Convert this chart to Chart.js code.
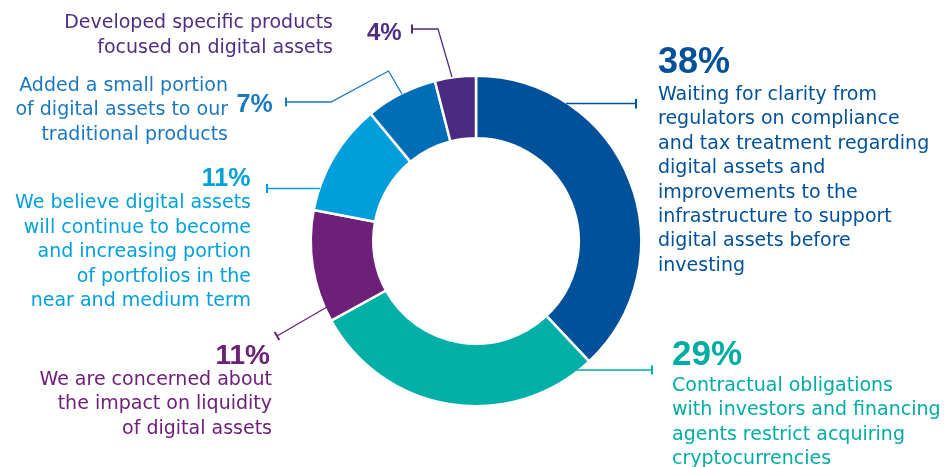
<!DOCTYPE html>
<html><head><meta charset="utf-8">
<script src="https://cdn.jsdelivr.net/npm/chart.js@4.4.1/dist/chart.umd.min.js"></script>
<style>html,body{margin:0;padding:0;background:#fff;overflow:hidden}canvas{display:block}</style>
</head><body>
<canvas id="c" width="947" height="467"></canvas>
<script>
// ---- data ----
const categories = [
  'Waiting for clarity from regulators on compliance and tax treatment regarding digital assets and improvements to the infrastructure to support digital assets before investing',
  'Contractual obligations with investors and financing agents restrict acquiring cryptocurrencies',
  'We are concerned about the impact on liquidity of digital assets',
  'We believe digital assets will continue to become and increasing portion of portfolios in the near and medium term',
  'Added a small portion of digital assets to our traditional products',
  'Developed specific products focused on digital assets'
];
const values = [38, 29, 11, 11, 7, 4];
const labelLines = [
  ['Waiting for clarity from','regulators on compliance','and tax treatment regarding','digital assets and','improvements to the','infrastructure to support','digital assets before','investing'],
  ['Contractual obligations','with investors and financing','agents restrict acquiring','cryptocurrencies'],
  ['We are concerned about','the impact on liquidity','of digital assets'],
  ['We believe digital assets','will continue to become','and increasing portion','of portfolios in the','near and medium term'],
  ['Added a small portion','of digital assets to our','traditional products'],
  ['Developed specific products','focused on digital assets']
];

// ---- styles ----
const sliceColors = ['#00519A', '#00B0A7', '#6D2077', '#009EDB', '#006EB6', '#4A2A80'];
const textColors  = ['#00519A', '#00ADA4', '#6D2077', '#00A0DC', '#1A78C2', '#4F2D82'];

// annotation layout (offsets relative to the doughnut centre)
const layout = [
  {pct:{dx:182,dy:-167.7,align:'left',size:36}, text:{dx:182,dy:-141,align:'left'}, lead:[[90,-137.5],[160,-137.5]], tick:[[160,-142],[160,-132.5]]},
  {pct:{dx:196,dy:124,align:'left',size:35}, text:{dx:196,dy:150,align:'left'}, lead:[[100,129],[176,129]], tick:[[176,124.5],[176,133.5]]},
  {pct:{dx:-206,dy:123,align:'right',size:28}, text:{dx:-204,dy:144,align:'right'}, lead:[[-149,66],[-199,95]], tick:[[-201.3,91.1],[-196.7,98.9]]},
  {pct:{dx:-225.5,dy:-55,align:'right',size:25}, text:{dx:-225,dy:-32.7,align:'right'}, lead:[[-156,-52.5],[-209,-52.5]], tick:[[-209,-57],[-209,-48]]},
  {pct:{dx:-239.5,dy:-128.7,align:'left',size:25}, text:{dx:-248,dy:-150,align:'right'}, lead:[[-74,-147],[-87.5,-170],[-145,-139],[-190,-139]], tick:[[-190,-143.5],[-190,-134.5]]},
  {pct:{dx:-109,dy:-201,align:'left',size:24}, text:{dx:-143,dy:-212.6,align:'right'}, lead:[[-24,-164],[-38,-212],[-64,-212]], tick:[[-64,-216.5],[-64,-207.5]]}
];
const lineGap = 24.4;
const bodyFont = '19px "DejaVu Sans"';

const annotations = {
  id: 'annotations',
  afterDraw(chart) {
    const ctx = chart.ctx;
    const arc = chart.getDatasetMeta(0).data[0];
    const cx = arc.x, cy = arc.y;
    ctx.save();
    layout.forEach((L, i) => {
      const col = textColors[i];
      ctx.strokeStyle = col;
      ctx.lineWidth = 1.3;
      ctx.beginPath();
      L.lead.forEach((p, k) => k ? ctx.lineTo(cx + p[0], cy + p[1]) : ctx.moveTo(cx + p[0], cy + p[1]));
      ctx.stroke();
      ctx.lineWidth = 2;
      ctx.beginPath();
      ctx.moveTo(cx + L.tick[0][0], cy + L.tick[0][1]);
      ctx.lineTo(cx + L.tick[1][0], cy + L.tick[1][1]);
      ctx.stroke();
      ctx.fillStyle = col;
      ctx.textBaseline = 'alphabetic';
      ctx.font = 'bold ' + L.pct.size + 'px "Liberation Sans"';
      ctx.textAlign = L.pct.align;
      ctx.fillText(values[i] + '%', cx + L.pct.dx, cy + L.pct.dy);
      ctx.font = bodyFont;
      ctx.textAlign = L.text.align;
      labelLines[i].forEach((t, k) => ctx.fillText(t, cx + L.text.dx, cy + L.text.dy + k * lineGap));
    });
    ctx.restore();
  }
};

new Chart(document.getElementById('c'), {
  type: 'doughnut',
  data: {
    labels: categories,
    datasets: [{
      data: values,
      backgroundColor: sliceColors,
      borderColor: '#ffffff',
      borderWidth: 2.5,
      hoverOffset: 0
    }]
  },
  options: {
    responsive: false,
    animation: false,
    cutout: 102.75,
    layout: { padding: { left: 309.5, right: 304.5, top: 74.5, bottom: 59.5 } },
    plugins: { legend: { display: false }, tooltip: { enabled: false } },
    events: []
  },
  plugins: [annotations]
});
</script>
</body></html>
